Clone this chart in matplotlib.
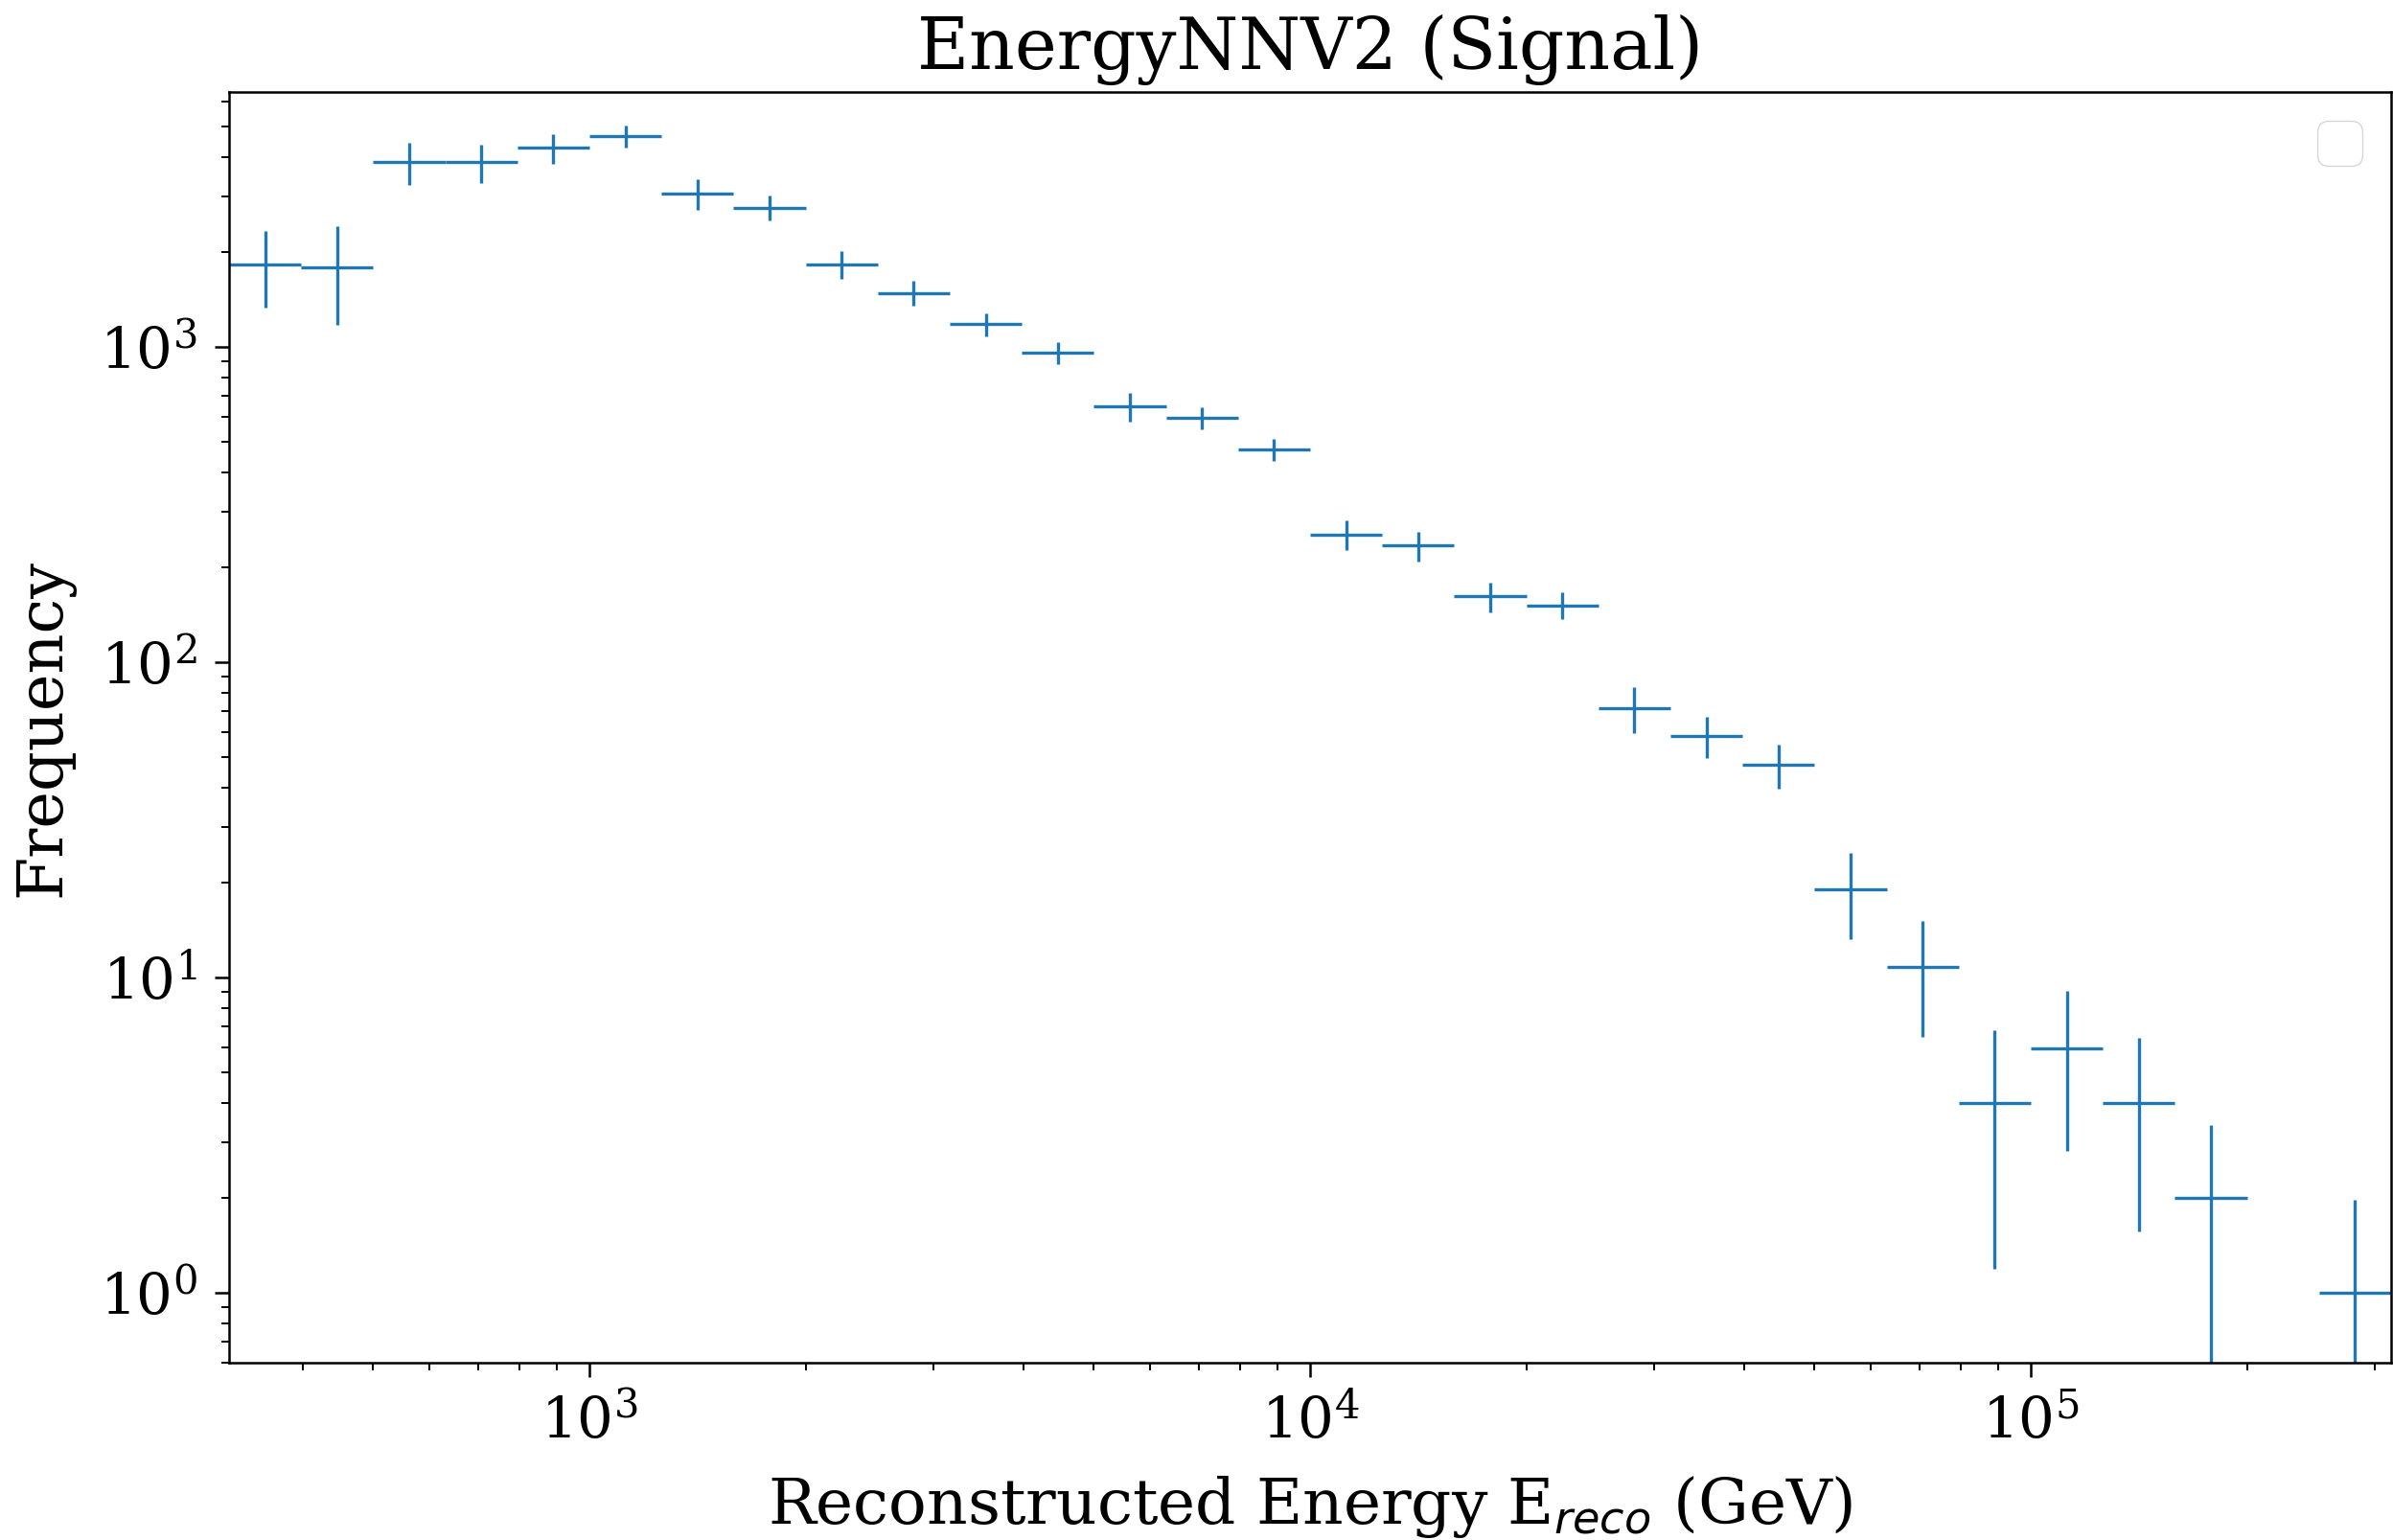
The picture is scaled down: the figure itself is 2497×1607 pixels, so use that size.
#Plots reconstructed energy distribution (signal) with error bars

import numpy as np
import matplotlib
matplotlib.use("Agg")
import matplotlib.pyplot as plt

plt.rcParams['font.family'] = 'serif'

#Histogram (log bins, 0.1 decade wide)
bin_edges = np.logspace(2.5, 5.5, 31)
counts = [1830, 1790, 3850, 3850, 4270, 4650, 3055, 2760, 1825, 1483,
          1180, 959, 647, 596, 473, 254, 234, 161.5, 151.5, 71.6,
          58.2, 47.3, 19.0, 10.8, 4.0, 5.94, 4.0, 2.0, 0, 1.0]
errors = [500, 620, 600, 540, 460, 370, 340, 250, 185, 135,
          97, 78, 67, 49, 39, 28, 25, 17.5, 15, 12,
          8.7, 7.6, 5.8, 4.3, 2.81, 3.13, 2.43, 1.41, 0, 0.97]

counts = np.array(counts)
errors = np.array(errors)
lo = bin_edges[:-1]
hi = bin_edges[1:]
centers = np.sqrt(lo * hi)
keep = counts > 0

dpi = 100
fig = plt.figure(figsize=(2497 / dpi, 1608 / dpi), dpi=dpi)
ax = fig.add_axes([239 / 2497, 1 - 1423 / 1608, (2495 - 239) / 2497, (1423 - 97) / 1608])

ax.errorbar(centers[keep], counts[keep],
            xerr=[centers[keep] - lo[keep], hi[keep] - centers[keep]],
            yerr=errors[keep], fmt='none', ecolor='#1f77b4', elinewidth=2.4)

ax.set_xscale('log')
ax.set_yscale('log')
ax.set_xlim(10**2.5, 10**5.5)
ax.set_ylim(0.6, 6430)

ax.set_title('EnergyNNV2 (Signal)', fontsize=53.4, pad=18)
ax.set_xlabel('Reconstructed Energy E$_{reco}$ (GeV)', fontsize=47.6, labelpad=17)
ax.set_ylabel('Frequency', fontsize=47, labelpad=19)

ax.tick_params(which='major', labelsize=42.8, length=10.8, width=1.8, pad=13)
ax.tick_params(which='minor', length=5.8, width=1.4)
for s in ax.spines.values():
    s.set_linewidth(1.8)

ax.legend(fontsize=42.8)

plt.savefig('out.png', dpi=dpi)
